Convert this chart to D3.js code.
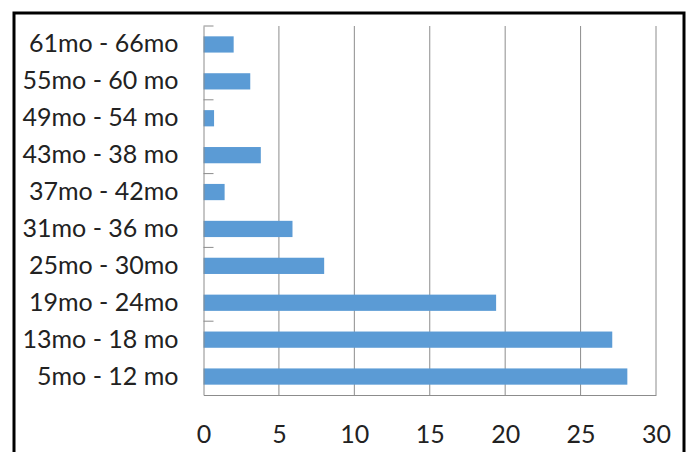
<!DOCTYPE html>
<html>
<head>
<meta charset="utf-8">
<script src="https://cdn.jsdelivr.net/npm/d3@7"></script>
<style>
  body { margin: 0; background: #fff; }
  svg { display: block; }
</style>
</head>
<body>
<div id="chart"></div>
<script>
// age groups, bottom to top as in the picture
var categories = ["5mo - 12 mo", "13mo - 18 mo", "19mo - 24mo", "25mo - 30mo", "31mo - 36 mo",
                  "37mo - 42mo", "43mo - 38 mo", "49mo - 54 mo", "55mo - 60 mo", "61mo - 66mo"];
var values = [28.1, 27.1, 19.4, 8.0, 5.9, 1.4, 3.8, 0.7, 3.1, 2.0];
var xTicks = [0, 5, 10, 15, 20, 25, 30];

var svgWidth = 688, svgHeight = 452;
var margin = { top: 26, right: 32, bottom: 57, left: 203.5 };
var width = svgWidth - margin.left - margin.right;
var height = svgHeight - margin.top - margin.bottom;

var svg = d3.select("#chart")
  .append("svg")
  .attr("width", svgWidth)
  .attr("height", svgHeight);

// outer frame (bottom edge runs off the picture)
svg.append("path")
  .attr("d", "M14,460 L14,13 L684,13 L684,460")
  .attr("fill", "none")
  .attr("stroke", "#000")
  .attr("stroke-width", 3);

var g = svg.append("g")
  .attr("transform", "translate(" + margin.left + "," + margin.top + ")");

var x = d3.scaleLinear().domain([0, 30]).range([0, width]);
var y = d3.scaleBand()
  .domain(categories.slice().reverse())
  .range([0, height])
  .paddingInner(0.56)
  .paddingOuter(0.28);

// vertical gridlines
g.selectAll("line.grid")
  .data(xTicks.slice(1))
  .enter().append("line")
  .attr("class", "grid")
  .attr("x1", function(d) { return x(d); })
  .attr("x2", function(d) { return x(d); })
  .attr("y1", 0)
  .attr("y2", height)
  .attr("stroke", "#8c8c8c")
  .attr("stroke-width", 1);

// bars
g.selectAll("rect.bar")
  .data(values)
  .enter().append("rect")
  .attr("class", "bar")
  .attr("x", 0)
  .attr("y", function(d, i) { return y(categories[i]); })
  .attr("width", function(d) { return x(d); })
  .attr("height", y.bandwidth())
  .attr("fill", "#5b9bd5");

// axes
var xAxis = g.append("g")
  .attr("transform", "translate(0," + height + ")")
  .call(d3.axisBottom(x).tickValues(xTicks).tickSize(0).tickPadding(30));
xAxis.select(".domain").attr("stroke", "#8c8c8c");

var yAxis = g.append("g")
  .call(d3.axisLeft(y).tickSize(0).tickPadding(25));
yAxis.select(".domain").attr("stroke", "#8c8c8c");

// small inside ticks at every other band boundary
g.selectAll("line.ytick")
  .data(d3.range(0, categories.length, 2))
  .enter().append("line")
  .attr("class", "ytick")
  .attr("x1", 0)
  .attr("x2", 10)
  .attr("y1", function(d) { return d * height / categories.length; })
  .attr("y2", function(d) { return d * height / categories.length; })
  .attr("stroke", "#8c8c8c");

svg.selectAll(".tick text")
  .attr("fill", "#222")
  .style("font-family", "Lato, 'Open Sans', sans-serif")
  .style("font-size", "25px");
</script>
</body>
</html>
